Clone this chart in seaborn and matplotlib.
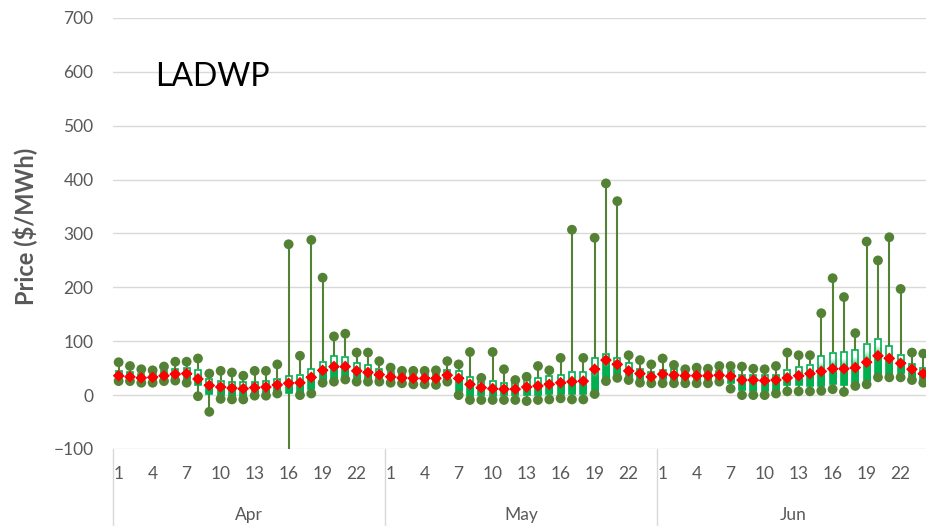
import numpy as np
import pandas as pd
import seaborn as sns
import matplotlib.pyplot as plt
import matplotlib.transforms as mtransforms
from matplotlib.colors import to_rgb

# hourly price stats ($/MWh), hour 1..24 for each month
months = ['Apr', 'May', 'Jun']
hours = list(range(1, 25))

apr_max = [61, 54, 48, 46, 53, 62, 62, 68, 40, 45, 42, 36, 45, 45, 57, 280, 73, 288, 218, 109, 114, 79, 79, 63]
apr_q3 = [44, 42, 39, 40, 44, 48, 51, 46, 29, 26, 24, 24, 25, 26, 30, 35, 37, 49, 62, 72, 71, 59, 55, 48]
apr_mean = [36, 34, 32, 33, 36, 39, 40, 30, 18, 15, 13, 12, 14, 15, 19, 22, 23, 33, 46, 53, 53, 45, 42, 38]
apr_q1 = [29, 28, 26, 27, 29, 30, 30, 18, 2, 0, -1, -1, 1, 1, 4, 4, 5, 12, 22, 30, 33, 30, 30, 29]
apr_min = [26, 26, 23, 23, 26, 27, 23, -2, -31, -7, -8, -8, -1, -1, 3, -180, 0, 3, 23, 25, 29, 25, 25, 25]

may_max = [51, 45, 45, 45, 46, 63, 57, 80, 32, 80, 48, 28, 34, 54, 46, 69, 307, 69, 292, 393, 360, 74, 65, 57]
may_q3 = [42, 40, 39, 39, 39, 46, 45, 33, 25, 26, 23, 23, 28, 31, 35, 37, 43, 43, 68, 77, 68, 59, 49, 43]
may_mean = [34, 32, 31, 31, 31, 37, 31, 20, 14, 12, 11, 11, 15, 17, 20, 23, 25, 26, 48, 65, 57, 45, 40, 34]
may_q1 = [28, 26, 25, 25, 25, 30, 8, -2, 0, -2, 0, 0, 0, 1, 2, 2, 2, 3, 4, 31, 38, 34, 29, 27]
may_min = [23, 22, 20, 20, 19, 25, 0, -9, -9, -9, -9, -9, -11, -9, -8, -6, -8, -8, 2, 26, 32, 28, 23, 22]

jun_max = [68, 56, 48, 51, 49, 54, 54, 53, 49, 48, 54, 79, 74, 74, 152, 217, 182, 115, 285, 250, 293, 197, 79, 77]
jun_q3 = [46, 49, 42, 45, 43, 44, 44, 38, 38, 37, 38, 46, 52, 56, 72, 79, 80, 83, 95, 105, 91, 75, 58, 50]
jun_mean = [39, 37, 36, 36, 36, 37, 35, 28, 28, 27, 28, 32, 36, 40, 44, 49, 49, 51, 61, 73, 68, 59, 48, 40]
jun_q1 = [30, 28, 28, 28, 28, 29, 22, 10, 8, 8, 8, 18, 18, 17, 17, 20, 19, 23, 26, 40, 40, 41, 34, 28]
jun_min = [22, 22, 22, 22, 22, 25, 12, 0, 0, 0, 3, 7, 7, 7, 8, 11, 6, 17, 20, 33, 33, 33, 28, 23]

stats = {
    'Apr': (apr_min, apr_q1, apr_mean, apr_q3, apr_max),
    'May': (may_min, may_q1, may_mean, may_q3, may_max),
    'Jun': (jun_min, jun_q1, jun_mean, jun_q3, jun_max),
}

rows = []
for mi, m in enumerate(months):
    mn, q1, mean, q3, mx = stats[m]
    for i, h in enumerate(hours):
        rows.append(dict(month=m, hour=h, pos=mi * 24 + i,
                         lo=mn[i], q1=q1[i], mean=mean[i], q3=q3[i], hi=mx[i]))
df = pd.DataFrame(rows)
ends = df.melt(id_vars='pos', value_vars=['lo', 'hi'], value_name='price')

sns.set_style('white')
plt.rcParams['font.family'] = ['Lato', 'DejaVu Sans']

grey = '#595959'
dark_green = '#548235'
box_green = '#00B050'

fig = plt.figure(figsize=(9.26, 5.26), dpi=100)
ax = fig.add_axes([0.122, 0.1464, 0.8812, 0.8194])

# whiskers
ax.vlines(df['pos'], df['lo'], df['hi'], color=dark_green, lw=1.5, zorder=2)

# boxes with a green-to-white gradient
g = np.array(to_rgb(box_green))
t = np.linspace(0, 1, 64)
k = np.clip((t - 0.45) / 0.35, 0, 1)[:, None]
grad = (g * (1 - k) + np.ones(3) * k)[:, None, :]
w = 0.55
for _, r in df.iterrows():
    ax.imshow(grad, extent=[r.pos - w / 2, r.pos + w / 2, r.q1, r.q3],
              origin='lower', aspect='auto', zorder=3, interpolation='bilinear')
    ax.add_patch(plt.Rectangle((r.pos - w / 2, r.q1), w, r.q3 - r.q1,
                               fill=False, ec=box_green, lw=1.2, zorder=3))

# min / max dots
sns.scatterplot(data=ends, x='pos', y='price', color=dark_green, s=50,
                edgecolor='none', zorder=4, ax=ax, legend=False)
# mean
ax.scatter(df['pos'], df['mean'], marker='_', s=55, lw=1.5, color='red', zorder=5)
sns.scatterplot(data=df, x='pos', y='mean', marker='D', color='red', s=36,
                edgecolor='none', zorder=6, ax=ax, legend=False)

ax.set_xlim(-0.5, 71.5)
ax.set_ylim(-100, 700)
ax.set_yticks(range(-100, 701, 100))
ax.yaxis.grid(True, color='#D9D9D9', lw=1)
ax.set_axisbelow(True)
sns.despine(ax=ax, left=True, bottom=True)

tick_hours = [1, 4, 7, 10, 13, 16, 19, 22]
xt = [mi * 24 + h - 1 for mi in range(len(months)) for h in tick_hours]
ax.set_xticks(xt)
ax.set_xticklabels([str(h) for _ in months for h in tick_hours])
ax.tick_params(axis='x', length=0, pad=12, labelsize=12.5, labelcolor=grey)
ax.tick_params(axis='y', length=0, pad=14, labelsize=12.5, labelcolor=grey)
ax.set_xlabel('')
ax.set_ylabel('')

trans = mtransforms.blended_transform_factory(ax.transData, ax.transAxes)
for b in [-0.5, 23.5, 47.5, 71.5]:
    ax.plot([b, b], [0, -0.2], transform=trans, color='#D9D9D9', lw=1, clip_on=False)
for mi, m in enumerate(months):
    ax.text(mi * 24 + 11.5, -0.153, m, transform=trans, ha='center', va='center',
            fontsize=12.5, color=grey)

fig.text(0.027, 0.569, 'Price ($/MWh)', rotation=90, ha='center', va='center',
         fontsize=17, fontweight='bold', color=grey)
ax.text(3.2, 590, 'LADWP', fontsize=23, color='black', va='center')

fig.savefig('out.png', dpi=100)
